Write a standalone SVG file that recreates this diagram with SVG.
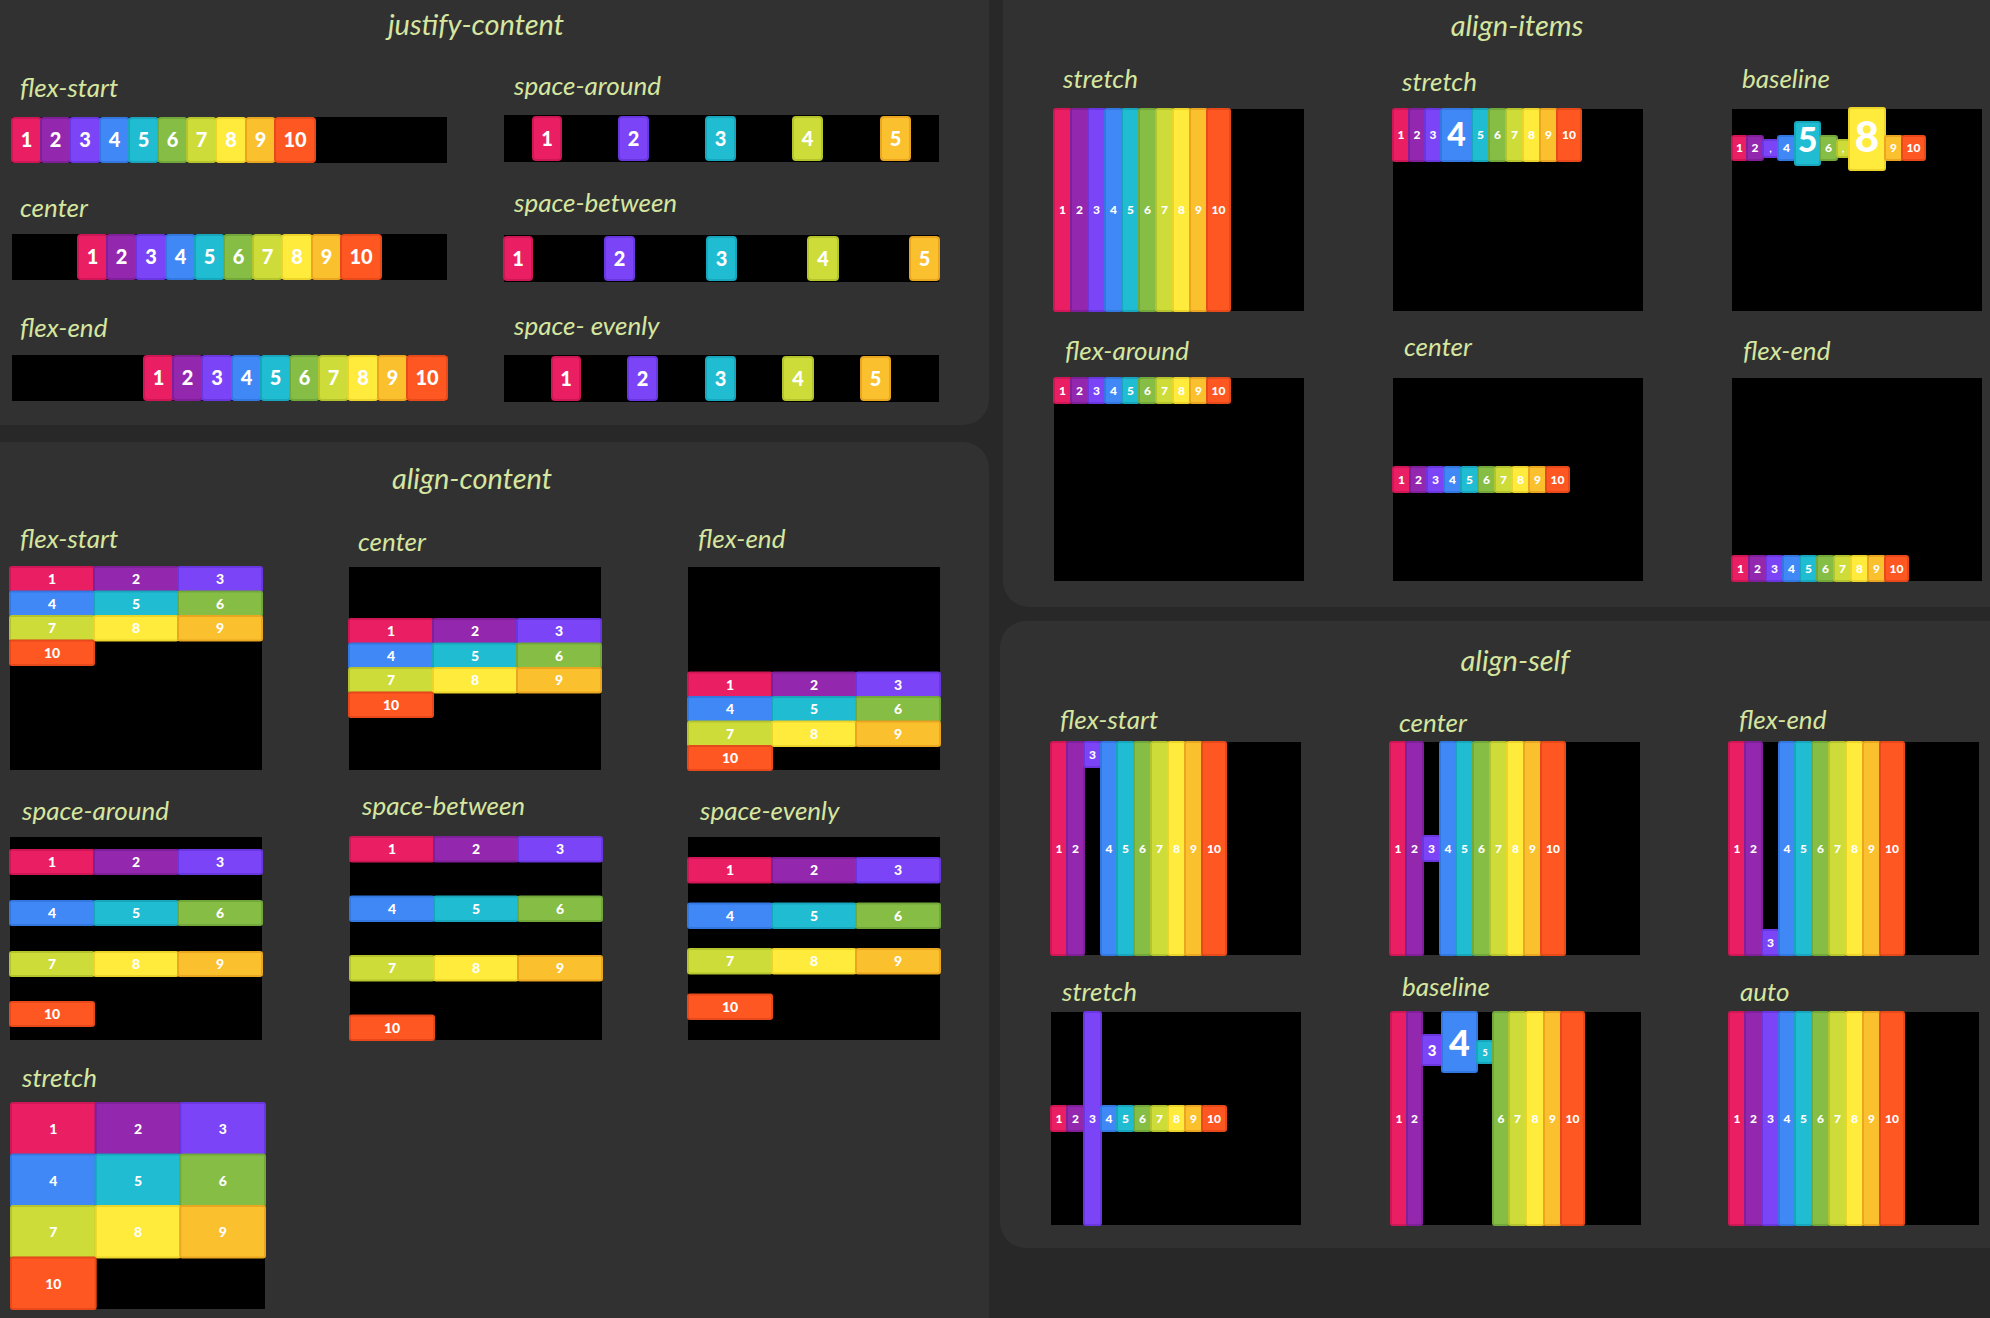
<svg xmlns="http://www.w3.org/2000/svg" width="1990" height="1318" viewBox="0 0 1990 1318">
<style>
.bg{fill:#282828}
.panel{fill:#313131}
.box{fill:#000}
.t{font-family:Lato,"Open Sans",sans-serif;font-style:italic;fill:#d6e6a0}
.title{font-size:29px;text-anchor:middle}
.lbl{font-size:26px}
.n{font-family:Lato,"Open Sans",sans-serif;font-weight:900;fill:#fff;text-anchor:middle}
.j{font-size:20px}
.a{font-size:14px}
.s{font-size:12px}
.c1{fill:#e91e63;stroke:#cf1757;stroke-width:2}
.c2{fill:#9327ad;stroke:#7f1f9a;stroke-width:2}
.c3{fill:#7c44f7;stroke:#6a36e0;stroke-width:2}
.c4{fill:#4088f6;stroke:#3377e0;stroke-width:2}
.c5{fill:#1fbcd2;stroke:#17a6bb;stroke-width:2}
.c6{fill:#86bd45;stroke:#72a83a;stroke-width:2}
.c7{fill:#cddc39;stroke:#b5c42c;stroke-width:2}
.c8{fill:#ffeb3b;stroke:#ecd42a;stroke-width:2}
.c9{fill:#fbc02d;stroke:#eaa620;stroke-width:2}
.c10{fill:#ff5722;stroke:#e8491a;stroke-width:2}
</style>
<rect class="bg" x="0" y="0" width="1990" height="1318"/>
<rect class="panel" x="-30" y="-30" width="1019" height="455" rx="26"/>
<rect class="panel" x="-30" y="442" width="1019" height="920" rx="26"/>
<rect class="panel" x="1003" y="-30" width="1020" height="637" rx="26"/>
<rect class="panel" x="1000" y="621" width="1020" height="627" rx="26"/>

<g id="justify-content">
<text class="t title" x="476" y="35">justify-content</text>
<g id="jc-flex-start">
<text class="t lbl" x="20" y="97">flex-start</text>
<rect class="box" x="12" y="117" width="435" height="46"/>
<rect class="c1" x="12" y="118" width="29" height="44" rx="3"/><rect class="c2" x="41" y="118" width="29" height="44" rx="3"/><rect class="c3" x="70" y="118" width="30" height="44" rx="3"/><rect class="c4" x="100" y="118" width="29" height="44" rx="3"/><rect class="c5" x="129" y="118" width="29" height="44" rx="3"/><rect class="c6" x="158" y="118" width="29" height="44" rx="3"/><rect class="c7" x="187" y="118" width="29" height="44" rx="3"/><rect class="c8" x="216" y="118" width="30" height="44" rx="3"/><rect class="c9" x="246" y="118" width="29" height="44" rx="3"/><rect class="c10" x="275" y="118" width="40" height="44" rx="3"/>
<text class="n j" x="26.5" y="147">1</text><text class="n j" x="55.5" y="147">2</text><text class="n j" x="85" y="147">3</text><text class="n j" x="114.5" y="147">4</text><text class="n j" x="143.5" y="147">5</text><text class="n j" x="172.5" y="147">6</text><text class="n j" x="201.5" y="147">7</text><text class="n j" x="231" y="147">8</text><text class="n j" x="260.5" y="147">9</text><text class="n j" x="295" y="147">10</text>
</g>
<g id="jc-center">
<text class="t lbl" x="20" y="217">center</text>
<rect class="box" x="12" y="234" width="435" height="46"/>
<rect class="c1" x="78" y="235" width="29" height="44" rx="3"/><rect class="c2" x="107" y="235" width="29" height="44" rx="3"/><rect class="c3" x="136" y="235" width="30" height="44" rx="3"/><rect class="c4" x="166" y="235" width="29" height="44" rx="3"/><rect class="c5" x="195" y="235" width="29" height="44" rx="3"/><rect class="c6" x="224" y="235" width="29" height="44" rx="3"/><rect class="c7" x="253" y="235" width="29" height="44" rx="3"/><rect class="c8" x="282" y="235" width="30" height="44" rx="3"/><rect class="c9" x="312" y="235" width="29" height="44" rx="3"/><rect class="c10" x="341" y="235" width="40" height="44" rx="3"/>
<text class="n j" x="92.5" y="264">1</text><text class="n j" x="121.5" y="264">2</text><text class="n j" x="151" y="264">3</text><text class="n j" x="180.5" y="264">4</text><text class="n j" x="209.5" y="264">5</text><text class="n j" x="238.5" y="264">6</text><text class="n j" x="267.5" y="264">7</text><text class="n j" x="297" y="264">8</text><text class="n j" x="326.5" y="264">9</text><text class="n j" x="361" y="264">10</text>
</g>
<g id="jc-flex-end">
<text class="t lbl" x="20" y="337">flex-end</text>
<rect class="box" x="12" y="355" width="435" height="46"/>
<rect class="c1" x="144" y="356" width="29" height="44" rx="3"/><rect class="c2" x="173" y="356" width="29" height="44" rx="3"/><rect class="c3" x="202" y="356" width="30" height="44" rx="3"/><rect class="c4" x="232" y="356" width="29" height="44" rx="3"/><rect class="c5" x="261" y="356" width="29" height="44" rx="3"/><rect class="c6" x="290" y="356" width="29" height="44" rx="3"/><rect class="c7" x="319" y="356" width="29" height="44" rx="3"/><rect class="c8" x="348" y="356" width="30" height="44" rx="3"/><rect class="c9" x="378" y="356" width="29" height="44" rx="3"/><rect class="c10" x="407" y="356" width="40" height="44" rx="3"/>
<text class="n j" x="158.5" y="385">1</text><text class="n j" x="187.5" y="385">2</text><text class="n j" x="217" y="385">3</text><text class="n j" x="246.5" y="385">4</text><text class="n j" x="275.5" y="385">5</text><text class="n j" x="304.5" y="385">6</text><text class="n j" x="333.5" y="385">7</text><text class="n j" x="363" y="385">8</text><text class="n j" x="392.5" y="385">9</text><text class="n j" x="427" y="385">10</text>
</g>
<g id="jc-space-around">
<text class="t lbl" x="514" y="95">space-around</text>
<rect class="box" x="504" y="115" width="435" height="47"/>
<rect class="c1" x="533" y="117" width="28" height="43" rx="3"/><rect class="c3" x="619" y="117" width="29" height="43" rx="3"/><rect class="c5" x="706" y="117" width="29" height="43" rx="3"/><rect class="c7" x="793" y="117" width="29" height="43" rx="3"/><rect class="c9" x="881" y="117" width="29" height="43" rx="3"/>
<text class="n j" x="547" y="146">1</text><text class="n j" x="633.5" y="146">2</text><text class="n j" x="720.5" y="146">3</text><text class="n j" x="807.5" y="146">4</text><text class="n j" x="895.5" y="146">5</text>
</g>
<g id="jc-space-between">
<text class="t lbl" x="514" y="212">space-between</text>
<rect class="box" x="504" y="235" width="435" height="47"/>
<rect class="c1" x="504" y="237" width="28" height="43" rx="3"/><rect class="c3" x="605" y="237" width="29" height="43" rx="3"/><rect class="c5" x="707" y="237" width="29" height="43" rx="3"/><rect class="c7" x="808" y="237" width="30" height="43" rx="3"/><rect class="c9" x="910" y="237" width="29" height="43" rx="3"/>
<text class="n j" x="518" y="266">1</text><text class="n j" x="619.5" y="266">2</text><text class="n j" x="721.5" y="266">3</text><text class="n j" x="823" y="266">4</text><text class="n j" x="924.5" y="266">5</text>
</g>
<g id="jc-space-evenly">
<text class="t lbl" x="514" y="335">space- evenly</text>
<rect class="box" x="504" y="355" width="435" height="47"/>
<rect class="c1" x="552" y="357" width="28" height="43" rx="3"/><rect class="c3" x="628" y="357" width="29" height="43" rx="3"/><rect class="c5" x="706" y="357" width="29" height="43" rx="3"/><rect class="c7" x="783" y="357" width="30" height="43" rx="3"/><rect class="c9" x="861" y="357" width="29" height="43" rx="3"/>
<text class="n j" x="566" y="386">1</text><text class="n j" x="642.5" y="386">2</text><text class="n j" x="720.5" y="386">3</text><text class="n j" x="798" y="386">4</text><text class="n j" x="875.5" y="386">5</text>
</g>
</g>

<g id="align-content">
<text class="t title" x="472" y="489">align-content</text>
<g id="ac-flex-start">
<text class="t lbl" x="20" y="548">flex-start</text>
<rect class="box" x="10" y="567" width="252" height="203"/>
<rect class="c1" x="10" y="567" width="84" height="24.5" rx="2"/><rect class="c2" x="94" y="567" width="84" height="24.5" rx="2"/><rect class="c3" x="178" y="567" width="84" height="24.5" rx="2"/>
<rect class="c4" x="10" y="591.5" width="84" height="24.5" rx="2"/><rect class="c5" x="94" y="591.5" width="84" height="24.5" rx="2"/><rect class="c6" x="178" y="591.5" width="84" height="24.5" rx="2"/>
<rect class="c7" x="10" y="616" width="84" height="24.5" rx="2"/><rect class="c8" x="94" y="616" width="84" height="24.5" rx="2"/><rect class="c9" x="178" y="616" width="84" height="24.5" rx="2"/>
<rect class="c10" x="10" y="640.5" width="84" height="24.5" rx="2"/>
<text class="n a" x="52" y="584">1</text><text class="n a" x="136" y="584">2</text><text class="n a" x="220" y="584">3</text>
<text class="n a" x="52" y="608.5">4</text><text class="n a" x="136" y="608.5">5</text><text class="n a" x="220" y="608.5">6</text>
<text class="n a" x="52" y="633">7</text><text class="n a" x="136" y="633">8</text><text class="n a" x="220" y="633">9</text>
<text class="n a" x="52" y="657.5">10</text>
</g>
<g id="ac-center">
<text class="t lbl" x="358" y="551">center</text>
<rect class="box" x="349" y="567" width="252" height="203"/>
<rect class="c1" x="349" y="619" width="84" height="24.5" rx="2"/><rect class="c2" x="433" y="619" width="84" height="24.5" rx="2"/><rect class="c3" x="517" y="619" width="84" height="24.5" rx="2"/>
<rect class="c4" x="349" y="643.5" width="84" height="24.5" rx="2"/><rect class="c5" x="433" y="643.5" width="84" height="24.5" rx="2"/><rect class="c6" x="517" y="643.5" width="84" height="24.5" rx="2"/>
<rect class="c7" x="349" y="668" width="84" height="24.5" rx="2"/><rect class="c8" x="433" y="668" width="84" height="24.5" rx="2"/><rect class="c9" x="517" y="668" width="84" height="24.5" rx="2"/>
<rect class="c10" x="349" y="692.5" width="84" height="24.5" rx="2"/>
<text class="n a" x="391" y="636">1</text><text class="n a" x="475" y="636">2</text><text class="n a" x="559" y="636">3</text>
<text class="n a" x="391" y="660.5">4</text><text class="n a" x="475" y="660.5">5</text><text class="n a" x="559" y="660.5">6</text>
<text class="n a" x="391" y="685">7</text><text class="n a" x="475" y="685">8</text><text class="n a" x="559" y="685">9</text>
<text class="n a" x="391" y="709.5">10</text>
</g>
<g id="ac-flex-end">
<text class="t lbl" x="698" y="548">flex-end</text>
<rect class="box" x="688" y="567" width="252" height="203"/>
<rect class="c1" x="688" y="672.5" width="84" height="24.5" rx="2"/><rect class="c2" x="772" y="672.5" width="84" height="24.5" rx="2"/><rect class="c3" x="856" y="672.5" width="84" height="24.5" rx="2"/>
<rect class="c4" x="688" y="697" width="84" height="24.5" rx="2"/><rect class="c5" x="772" y="697" width="84" height="24.5" rx="2"/><rect class="c6" x="856" y="697" width="84" height="24.5" rx="2"/>
<rect class="c7" x="688" y="721.5" width="84" height="24.5" rx="2"/><rect class="c8" x="772" y="721.5" width="84" height="24.5" rx="2"/><rect class="c9" x="856" y="721.5" width="84" height="24.5" rx="2"/>
<rect class="c10" x="688" y="746" width="84" height="24" rx="2"/>
<text class="n a" x="730" y="689.5">1</text><text class="n a" x="814" y="689.5">2</text><text class="n a" x="898" y="689.5">3</text>
<text class="n a" x="730" y="714">4</text><text class="n a" x="814" y="714">5</text><text class="n a" x="898" y="714">6</text>
<text class="n a" x="730" y="738.5">7</text><text class="n a" x="814" y="738.5">8</text><text class="n a" x="898" y="738.5">9</text>
<text class="n a" x="730" y="763">10</text>
</g>
<g id="ac-space-around">
<text class="t lbl" x="22" y="820">space-around</text>
<rect class="box" x="10" y="837" width="252" height="203"/>
<rect class="c1" x="10" y="850" width="84" height="24" rx="2"/><rect class="c2" x="94" y="850" width="84" height="24" rx="2"/><rect class="c3" x="178" y="850" width="84" height="24" rx="2"/>
<rect class="c4" x="10" y="901" width="84" height="24" rx="2"/><rect class="c5" x="94" y="901" width="84" height="24" rx="2"/><rect class="c6" x="178" y="901" width="84" height="24" rx="2"/>
<rect class="c7" x="10" y="952" width="84" height="24" rx="2"/><rect class="c8" x="94" y="952" width="84" height="24" rx="2"/><rect class="c9" x="178" y="952" width="84" height="24" rx="2"/>
<rect class="c10" x="10" y="1002" width="84" height="24" rx="2"/>
<text class="n a" x="52" y="867">1</text><text class="n a" x="136" y="867">2</text><text class="n a" x="220" y="867">3</text>
<text class="n a" x="52" y="918">4</text><text class="n a" x="136" y="918">5</text><text class="n a" x="220" y="918">6</text>
<text class="n a" x="52" y="969">7</text><text class="n a" x="136" y="969">8</text><text class="n a" x="220" y="969">9</text>
<text class="n a" x="52" y="1019">10</text>
</g>
<g id="ac-space-between">
<text class="t lbl" x="362" y="815">space-between</text>
<rect class="box" x="350" y="837" width="252" height="203"/>
<rect class="c1" x="350" y="837" width="84" height="24.5" rx="2"/><rect class="c2" x="434" y="837" width="84" height="24.5" rx="2"/><rect class="c3" x="518" y="837" width="84" height="24.5" rx="2"/>
<rect class="c4" x="350" y="896.5" width="84" height="24.5" rx="2"/><rect class="c5" x="434" y="896.5" width="84" height="24.5" rx="2"/><rect class="c6" x="518" y="896.5" width="84" height="24.5" rx="2"/>
<rect class="c7" x="350" y="956" width="84" height="24.5" rx="2"/><rect class="c8" x="434" y="956" width="84" height="24.5" rx="2"/><rect class="c9" x="518" y="956" width="84" height="24.5" rx="2"/>
<rect class="c10" x="350" y="1015.5" width="84" height="24.5" rx="2"/>
<text class="n a" x="392" y="854">1</text><text class="n a" x="476" y="854">2</text><text class="n a" x="560" y="854">3</text>
<text class="n a" x="392" y="913.5">4</text><text class="n a" x="476" y="913.5">5</text><text class="n a" x="560" y="913.5">6</text>
<text class="n a" x="392" y="973">7</text><text class="n a" x="476" y="973">8</text><text class="n a" x="560" y="973">9</text>
<text class="n a" x="392" y="1032.5">10</text>
</g>
<g id="ac-space-evenly">
<text class="t lbl" x="700" y="820">space-evenly</text>
<rect class="box" x="688" y="837" width="252" height="203"/>
<rect class="c1" x="688" y="858" width="84" height="24.5" rx="2"/><rect class="c2" x="772" y="858" width="84" height="24.5" rx="2"/><rect class="c3" x="856" y="858" width="84" height="24.5" rx="2"/>
<rect class="c4" x="688" y="903.5" width="84" height="24.5" rx="2"/><rect class="c5" x="772" y="903.5" width="84" height="24.5" rx="2"/><rect class="c6" x="856" y="903.5" width="84" height="24.5" rx="2"/>
<rect class="c7" x="688" y="949" width="84" height="24.5" rx="2"/><rect class="c8" x="772" y="949" width="84" height="24.5" rx="2"/><rect class="c9" x="856" y="949" width="84" height="24.5" rx="2"/>
<rect class="c10" x="688" y="994.5" width="84" height="24.5" rx="2"/>
<text class="n a" x="730" y="875">1</text><text class="n a" x="814" y="875">2</text><text class="n a" x="898" y="875">3</text>
<text class="n a" x="730" y="920.5">4</text><text class="n a" x="814" y="920.5">5</text><text class="n a" x="898" y="920.5">6</text>
<text class="n a" x="730" y="966">7</text><text class="n a" x="814" y="966">8</text><text class="n a" x="898" y="966">9</text>
<text class="n a" x="730" y="1011.5">10</text>
</g>
<g id="ac-stretch">
<text class="t lbl" x="22" y="1087">stretch</text>
<rect class="box" x="11" y="1103" width="254" height="206"/>
<rect class="c1" x="11" y="1103" width="84.7" height="51.5" rx="2"/><rect class="c2" x="95.7" y="1103" width="84.6" height="51.5" rx="2"/><rect class="c3" x="180.3" y="1103" width="84.7" height="51.5" rx="2"/>
<rect class="c4" x="11" y="1154.5" width="84.7" height="51.5" rx="2"/><rect class="c5" x="95.7" y="1154.5" width="84.6" height="51.5" rx="2"/><rect class="c6" x="180.3" y="1154.5" width="84.7" height="51.5" rx="2"/>
<rect class="c7" x="11" y="1206" width="84.7" height="51.5" rx="2"/><rect class="c8" x="95.7" y="1206" width="84.6" height="51.5" rx="2"/><rect class="c9" x="180.3" y="1206" width="84.7" height="51.5" rx="2"/>
<rect class="c10" x="11" y="1257.5" width="84.7" height="51.5" rx="2"/>
<text class="n a" x="53.3" y="1134">1</text><text class="n a" x="138" y="1134">2</text><text class="n a" x="222.7" y="1134">3</text>
<text class="n a" x="53.3" y="1185.5">4</text><text class="n a" x="138" y="1185.5">5</text><text class="n a" x="222.7" y="1185.5">6</text>
<text class="n a" x="53.3" y="1237">7</text><text class="n a" x="138" y="1237">8</text><text class="n a" x="222.7" y="1237">9</text>
<text class="n a" x="53.3" y="1288.5">10</text>
</g>
</g>

<g id="align-items">
<text class="t title" x="1517" y="36">align-items</text>
<g id="ai-stretch">
<text class="t lbl" x="1063" y="88">stretch</text>
<rect class="box" x="1054" y="109" width="250" height="202"/>
<rect class="c1" x="1054" y="109" width="17" height="202" rx="2"/><rect class="c2" x="1071" y="109" width="17" height="202" rx="2"/><rect class="c3" x="1088" y="109" width="17" height="202" rx="2"/><rect class="c4" x="1105" y="109" width="17" height="202" rx="2"/><rect class="c5" x="1122" y="109" width="17" height="202" rx="2"/><rect class="c6" x="1139" y="109" width="17" height="202" rx="2"/><rect class="c7" x="1156" y="109" width="17" height="202" rx="2"/><rect class="c8" x="1173" y="109" width="17" height="202" rx="2"/><rect class="c9" x="1190" y="109" width="17" height="202" rx="2"/><rect class="c10" x="1207" y="109" width="23" height="202" rx="2"/>
<text class="n s" x="1062.5" y="214">1</text><text class="n s" x="1079.5" y="214">2</text><text class="n s" x="1096.5" y="214">3</text><text class="n s" x="1113.5" y="214">4</text><text class="n s" x="1130.5" y="214">5</text><text class="n s" x="1147.5" y="214">6</text><text class="n s" x="1164.5" y="214">7</text><text class="n s" x="1181.5" y="214">8</text><text class="n s" x="1198.5" y="214">9</text><text class="n s" x="1218.5" y="214">10</text>
</g>
<g id="ai-stretch-2">
<text class="t lbl" x="1402" y="91">stretch</text>
<rect class="box" x="1393" y="109" width="250" height="202"/>
<rect class="c1" x="1393" y="109" width="16" height="52" rx="2"/><rect class="c2" x="1409" y="109" width="16" height="52" rx="2"/><rect class="c3" x="1425" y="109" width="16" height="52" rx="2"/><rect class="c4" x="1441" y="109" width="31" height="52" rx="2"/><rect class="c5" x="1472" y="109" width="17" height="52" rx="2"/><rect class="c6" x="1489" y="109" width="17" height="52" rx="2"/><rect class="c7" x="1506" y="109" width="17" height="52" rx="2"/><rect class="c8" x="1523" y="109" width="17" height="52" rx="2"/><rect class="c9" x="1540" y="109" width="17" height="52" rx="2"/><rect class="c10" x="1557" y="109" width="24" height="52" rx="2"/>
<text class="n s" x="1401" y="139">1</text><text class="n s" x="1417" y="139">2</text><text class="n s" x="1433" y="139">3</text><text class="n" x="1456.5" y="146" font-size="32">4</text><text class="n s" x="1480.5" y="139">5</text><text class="n s" x="1497.5" y="139">6</text><text class="n s" x="1514.5" y="139">7</text><text class="n s" x="1531.5" y="139">8</text><text class="n s" x="1548.5" y="139">9</text><text class="n s" x="1569" y="139">10</text>
</g>
<g id="ai-baseline">
<text class="t lbl" x="1742" y="88">baseline</text>
<rect class="box" x="1732" y="109" width="250" height="202"/>
<rect class="c1" x="1732" y="136" width="15" height="24" rx="2"/><rect class="c2" x="1747" y="136" width="16" height="24" rx="2"/><rect class="c3" x="1763" y="140" width="15" height="17" rx="2"/><rect class="c4" x="1778" y="136" width="17" height="24" rx="2"/><rect class="c5" x="1795" y="122" width="25" height="43" rx="2"/><rect class="c6" x="1820" y="136" width="17" height="24" rx="2"/><rect class="c7" x="1837" y="140" width="12" height="17" rx="2"/><rect class="c8" x="1849" y="108" width="36" height="62" rx="2"/><rect class="c9" x="1885" y="136" width="17" height="24" rx="2"/><rect class="c10" x="1902" y="136" width="23" height="24" rx="2"/>
<text class="n s" x="1739.5" y="152">1</text><text class="n s" x="1755" y="152">2</text><text class="n" x="1770.5" y="152" font-size="9">,</text><text class="n s" x="1786.5" y="152">4</text><text class="n" x="1807.5" y="152" font-size="34">5</text><text class="n s" x="1828.5" y="152">6</text><text class="n" x="1843" y="152" font-size="9">,</text><text class="n" x="1867" y="152" font-size="42">8</text><text class="n s" x="1893.5" y="152">9</text><text class="n s" x="1913.5" y="152">10</text>
</g>
<g id="ai-flex-start">
<text class="t lbl" x="1065" y="360">flex-around</text>
<rect class="box" x="1054" y="378" width="250" height="203"/>
<rect class="c1" x="1054" y="378" width="17" height="25" rx="2"/><rect class="c2" x="1071" y="378" width="17" height="25" rx="2"/><rect class="c3" x="1088" y="378" width="17" height="25" rx="2"/><rect class="c4" x="1105" y="378" width="17" height="25" rx="2"/><rect class="c5" x="1122" y="378" width="17" height="25" rx="2"/><rect class="c6" x="1139" y="378" width="17" height="25" rx="2"/><rect class="c7" x="1156" y="378" width="17" height="25" rx="2"/><rect class="c8" x="1173" y="378" width="17" height="25" rx="2"/><rect class="c9" x="1190" y="378" width="17" height="25" rx="2"/><rect class="c10" x="1207" y="378" width="23" height="25" rx="2"/>
<text class="n s" x="1062.5" y="394.5">1</text><text class="n s" x="1079.5" y="394.5">2</text><text class="n s" x="1096.5" y="394.5">3</text><text class="n s" x="1113.5" y="394.5">4</text><text class="n s" x="1130.5" y="394.5">5</text><text class="n s" x="1147.5" y="394.5">6</text><text class="n s" x="1164.5" y="394.5">7</text><text class="n s" x="1181.5" y="394.5">8</text><text class="n s" x="1198.5" y="394.5">9</text><text class="n s" x="1218.5" y="394.5">10</text>
</g>
<g id="ai-center">
<text class="t lbl" x="1404" y="356">center</text>
<rect class="box" x="1393" y="378" width="250" height="203"/>
<rect class="c1" x="1393" y="467" width="17" height="25" rx="2"/><rect class="c2" x="1410" y="467" width="17" height="25" rx="2"/><rect class="c3" x="1427" y="467" width="17" height="25" rx="2"/><rect class="c4" x="1444" y="467" width="17" height="25" rx="2"/><rect class="c5" x="1461" y="467" width="17" height="25" rx="2"/><rect class="c6" x="1478" y="467" width="17" height="25" rx="2"/><rect class="c7" x="1495" y="467" width="17" height="25" rx="2"/><rect class="c8" x="1512" y="467" width="17" height="25" rx="2"/><rect class="c9" x="1529" y="467" width="17" height="25" rx="2"/><rect class="c10" x="1546" y="467" width="23" height="25" rx="2"/>
<text class="n s" x="1401.5" y="483.5">1</text><text class="n s" x="1418.5" y="483.5">2</text><text class="n s" x="1435.5" y="483.5">3</text><text class="n s" x="1452.5" y="483.5">4</text><text class="n s" x="1469.5" y="483.5">5</text><text class="n s" x="1486.5" y="483.5">6</text><text class="n s" x="1503.5" y="483.5">7</text><text class="n s" x="1520.5" y="483.5">8</text><text class="n s" x="1537.5" y="483.5">9</text><text class="n s" x="1557.5" y="483.5">10</text>
</g>
<g id="ai-flex-end">
<text class="t lbl" x="1743" y="360">flex-end</text>
<rect class="box" x="1732" y="378" width="250" height="203"/>
<rect class="c1" x="1732" y="556" width="17" height="25" rx="2"/><rect class="c2" x="1749" y="556" width="17" height="25" rx="2"/><rect class="c3" x="1766" y="556" width="17" height="25" rx="2"/><rect class="c4" x="1783" y="556" width="17" height="25" rx="2"/><rect class="c5" x="1800" y="556" width="17" height="25" rx="2"/><rect class="c6" x="1817" y="556" width="17" height="25" rx="2"/><rect class="c7" x="1834" y="556" width="17" height="25" rx="2"/><rect class="c8" x="1851" y="556" width="17" height="25" rx="2"/><rect class="c9" x="1868" y="556" width="17" height="25" rx="2"/><rect class="c10" x="1885" y="556" width="23" height="25" rx="2"/>
<text class="n s" x="1740.5" y="572.5">1</text><text class="n s" x="1757.5" y="572.5">2</text><text class="n s" x="1774.5" y="572.5">3</text><text class="n s" x="1791.5" y="572.5">4</text><text class="n s" x="1808.5" y="572.5">5</text><text class="n s" x="1825.5" y="572.5">6</text><text class="n s" x="1842.5" y="572.5">7</text><text class="n s" x="1859.5" y="572.5">8</text><text class="n s" x="1876.5" y="572.5">9</text><text class="n s" x="1896.5" y="572.5">10</text>
</g>
</g>

<g id="align-self">
<text class="t title" x="1515" y="671">align-self</text>
<g id="as-flex-start">
<text class="t lbl" x="1060" y="729">flex-start</text>
<rect class="box" x="1051" y="742" width="250" height="213"/>
<rect class="c1" x="1051" y="742" width="16" height="213" rx="2"/><rect class="c2" x="1067" y="742" width="17" height="213" rx="2"/><rect class="c3" x="1084" y="742" width="17" height="25" rx="2"/><rect class="c4" x="1101" y="742" width="16" height="213" rx="2"/><rect class="c5" x="1117" y="742" width="17" height="213" rx="2"/><rect class="c6" x="1134" y="742" width="17" height="213" rx="2"/><rect class="c7" x="1151" y="742" width="17" height="213" rx="2"/><rect class="c8" x="1168" y="742" width="17" height="213" rx="2"/><rect class="c9" x="1185" y="742" width="17" height="213" rx="2"/><rect class="c10" x="1202" y="742" width="24" height="213" rx="2"/>
<text class="n s" x="1059" y="852.5">1</text><text class="n s" x="1075.5" y="852.5">2</text><text class="n s" x="1092.5" y="758.5">3</text><text class="n s" x="1109" y="852.5">4</text><text class="n s" x="1125.5" y="852.5">5</text><text class="n s" x="1142.5" y="852.5">6</text><text class="n s" x="1159.5" y="852.5">7</text><text class="n s" x="1176.5" y="852.5">8</text><text class="n s" x="1193.5" y="852.5">9</text><text class="n s" x="1214" y="852.5">10</text>
</g>
<g id="as-center">
<text class="t lbl" x="1399" y="732">center</text>
<rect class="box" x="1390" y="742" width="250" height="213"/>
<rect class="c1" x="1390" y="742" width="16" height="213" rx="2"/><rect class="c2" x="1406" y="742" width="17" height="213" rx="2"/><rect class="c3" x="1423" y="836" width="17" height="25" rx="2"/><rect class="c4" x="1440" y="742" width="16" height="213" rx="2"/><rect class="c5" x="1456" y="742" width="17" height="213" rx="2"/><rect class="c6" x="1473" y="742" width="17" height="213" rx="2"/><rect class="c7" x="1490" y="742" width="17" height="213" rx="2"/><rect class="c8" x="1507" y="742" width="17" height="213" rx="2"/><rect class="c9" x="1524" y="742" width="17" height="213" rx="2"/><rect class="c10" x="1541" y="742" width="24" height="213" rx="2"/>
<text class="n s" x="1398" y="852.5">1</text><text class="n s" x="1414.5" y="852.5">2</text><text class="n s" x="1431.5" y="852.5">3</text><text class="n s" x="1448" y="852.5">4</text><text class="n s" x="1464.5" y="852.5">5</text><text class="n s" x="1481.5" y="852.5">6</text><text class="n s" x="1498.5" y="852.5">7</text><text class="n s" x="1515.5" y="852.5">8</text><text class="n s" x="1532.5" y="852.5">9</text><text class="n s" x="1553" y="852.5">10</text>
</g>
<g id="as-flex-end">
<text class="t lbl" x="1739" y="729">flex-end</text>
<rect class="box" x="1729" y="742" width="250" height="213"/>
<rect class="c1" x="1729" y="742" width="16" height="213" rx="2"/><rect class="c2" x="1745" y="742" width="17" height="213" rx="2"/><rect class="c3" x="1762" y="930" width="17" height="25" rx="2"/><rect class="c4" x="1779" y="742" width="16" height="213" rx="2"/><rect class="c5" x="1795" y="742" width="17" height="213" rx="2"/><rect class="c6" x="1812" y="742" width="17" height="213" rx="2"/><rect class="c7" x="1829" y="742" width="17" height="213" rx="2"/><rect class="c8" x="1846" y="742" width="17" height="213" rx="2"/><rect class="c9" x="1863" y="742" width="17" height="213" rx="2"/><rect class="c10" x="1880" y="742" width="24" height="213" rx="2"/>
<text class="n s" x="1737" y="852.5">1</text><text class="n s" x="1753.5" y="852.5">2</text><text class="n s" x="1770.5" y="946.5">3</text><text class="n s" x="1787" y="852.5">4</text><text class="n s" x="1803.5" y="852.5">5</text><text class="n s" x="1820.5" y="852.5">6</text><text class="n s" x="1837.5" y="852.5">7</text><text class="n s" x="1854.5" y="852.5">8</text><text class="n s" x="1871.5" y="852.5">9</text><text class="n s" x="1892" y="852.5">10</text>
</g>
<g id="as-stretch">
<text class="t lbl" x="1062" y="1001">stretch</text>
<rect class="box" x="1051" y="1012" width="250" height="213"/>
<rect class="c1" x="1051" y="1106" width="16" height="25" rx="2"/><rect class="c2" x="1067" y="1106" width="17" height="25" rx="2"/><rect class="c3" x="1084" y="1012" width="17" height="213" rx="2"/><rect class="c4" x="1101" y="1106" width="16" height="25" rx="2"/><rect class="c5" x="1117" y="1106" width="17" height="25" rx="2"/><rect class="c6" x="1134" y="1106" width="17" height="25" rx="2"/><rect class="c7" x="1151" y="1106" width="17" height="25" rx="2"/><rect class="c8" x="1168" y="1106" width="17" height="25" rx="2"/><rect class="c9" x="1185" y="1106" width="17" height="25" rx="2"/><rect class="c10" x="1202" y="1106" width="24" height="25" rx="2"/>
<text class="n s" x="1059" y="1122.5">1</text><text class="n s" x="1075.5" y="1122.5">2</text><text class="n s" x="1092.5" y="1122.5">3</text><text class="n s" x="1109" y="1122.5">4</text><text class="n s" x="1125.5" y="1122.5">5</text><text class="n s" x="1142.5" y="1122.5">6</text><text class="n s" x="1159.5" y="1122.5">7</text><text class="n s" x="1176.5" y="1122.5">8</text><text class="n s" x="1193.5" y="1122.5">9</text><text class="n s" x="1214" y="1122.5">10</text>
</g>
<g id="as-baseline">
<text class="t lbl" x="1402" y="996">baseline</text>
<rect class="box" x="1391" y="1012" width="250" height="213"/>
<rect class="c1" x="1391" y="1012" width="16" height="213" rx="2"/><rect class="c2" x="1407" y="1012" width="15" height="213" rx="2"/><rect class="c3" x="1422" y="1035" width="20" height="30" rx="2"/><rect class="c4" x="1442" y="1012" width="35" height="60" rx="2"/><rect class="c5" x="1477" y="1041" width="16" height="22" rx="2"/><rect class="c6" x="1493" y="1012" width="16" height="213" rx="2"/><rect class="c7" x="1509" y="1012" width="17" height="213" rx="2"/><rect class="c8" x="1526" y="1012" width="18" height="213" rx="2"/><rect class="c9" x="1544" y="1012" width="17" height="213" rx="2"/><rect class="c10" x="1561" y="1012" width="23" height="213" rx="2"/>
<text class="n s" x="1399" y="1122.5">1</text><text class="n s" x="1414.5" y="1122.5">2</text><text class="n" x="1432" y="1056" font-size="15">3</text><text class="n" x="1459.5" y="1056" font-size="36">4</text><text class="n" x="1485" y="1056" font-size="9">5</text><text class="n s" x="1501" y="1122.5">6</text><text class="n s" x="1517.5" y="1122.5">7</text><text class="n s" x="1535" y="1122.5">8</text><text class="n s" x="1552.5" y="1122.5">9</text><text class="n s" x="1572.5" y="1122.5">10</text>
</g>
<g id="as-auto">
<text class="t lbl" x="1740" y="1001">auto</text>
<rect class="box" x="1729" y="1012" width="250" height="213"/>
<rect class="c1" x="1729" y="1012" width="16" height="213" rx="2"/><rect class="c2" x="1745" y="1012" width="17" height="213" rx="2"/><rect class="c3" x="1762" y="1012" width="17" height="213" rx="2"/><rect class="c4" x="1779" y="1012" width="16" height="213" rx="2"/><rect class="c5" x="1795" y="1012" width="17" height="213" rx="2"/><rect class="c6" x="1812" y="1012" width="17" height="213" rx="2"/><rect class="c7" x="1829" y="1012" width="17" height="213" rx="2"/><rect class="c8" x="1846" y="1012" width="17" height="213" rx="2"/><rect class="c9" x="1863" y="1012" width="17" height="213" rx="2"/><rect class="c10" x="1880" y="1012" width="24" height="213" rx="2"/>
<text class="n s" x="1737" y="1122.5">1</text><text class="n s" x="1753.5" y="1122.5">2</text><text class="n s" x="1770.5" y="1122.5">3</text><text class="n s" x="1787" y="1122.5">4</text><text class="n s" x="1803.5" y="1122.5">5</text><text class="n s" x="1820.5" y="1122.5">6</text><text class="n s" x="1837.5" y="1122.5">7</text><text class="n s" x="1854.5" y="1122.5">8</text><text class="n s" x="1871.5" y="1122.5">9</text><text class="n s" x="1892" y="1122.5">10</text>
</g>
</g>
</svg>
